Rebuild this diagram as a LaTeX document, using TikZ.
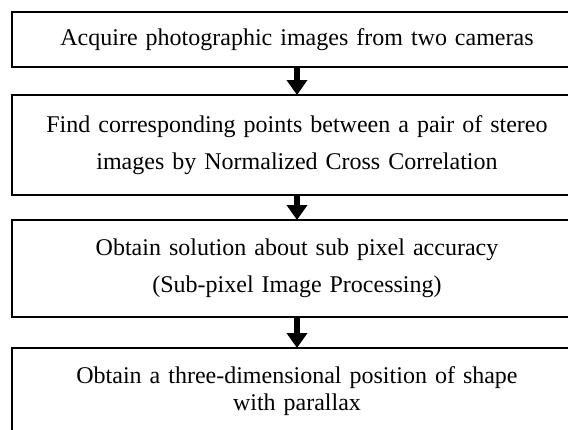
\documentclass[tikz,border=0pt]{standalone}
\usepackage{fontspec}
\setmainfont{Liberation Serif}
\usetikzlibrary{positioning,arrows.meta}
\tikzset{
stepbox/.style={shape=rectangle, draw=black, line width=2pt, outer sep=0pt, inner sep=0pt, minimum width=570pt, text width=560pt, align=center, font=\fontsize{24}{37}\selectfont},
flow/.style={line width=6pt, -{Triangle[width=20pt,length=15pt]}}
}
\begin{document}
\begin{tikzpicture}[x=1pt,y=-1pt]
          \useasboundingbox (0,0) rectangle (568,429);
          \clip (0,0) rectangle (568,429);
          \node[stepbox, minimum height=55pt] (acquire) at (297,39.5) {Acquire photographic images from two cameras};
          \node[stepbox, minimum height=100pt, below=28pt of acquire] (match) {Find corresponding points between a pair of stereo\\ images by Normalized Cross Correlation};
          \node[stepbox, minimum height=97pt, below=25pt of match] (subpixel) {Obtain solution about sub pixel accuracy\\ (Sub-pixel Image Processing)};
          \node[stepbox, minimum height=87pt, below=31pt of subpixel, font=\fontsize{24}{27}\selectfont] (position) {Obtain a three-dimensional position of shape\\ with parallax};
          \draw[flow] (acquire.south) -- (match.north);
          \draw[flow] (match.south) -- (subpixel.north);
          \draw[flow] (subpixel.south) -- (position.north);
      \end{tikzpicture}
\end{document}
